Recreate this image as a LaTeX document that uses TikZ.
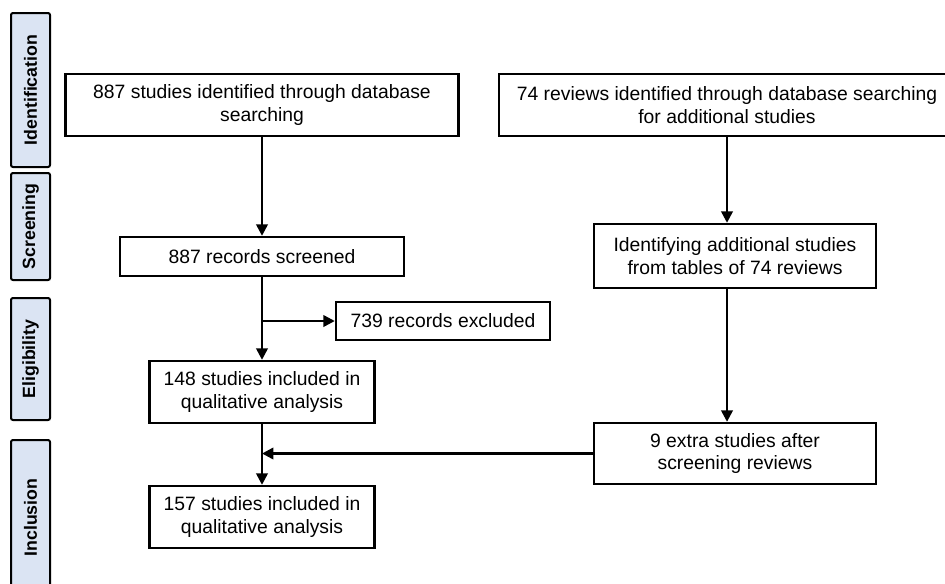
\documentclass[tikz,border=0pt]{standalone}
\usepackage{fontspec}
\setmainfont{Liberation Sans}
\usetikzlibrary{arrows.meta}
\definecolor{phaseblue}{RGB}{219,228,243}
\newlength\px
\setlength\px{0.75pt}
\tikzset{
  box/.style={draw, line width=1.8pt, align=center, inner sep=0pt,
    font=\fontsize{14.5}{17}\selectfont},
  phase/.style={draw, line width=1.5pt, rounded corners=1.5pt, fill=phaseblue,
    rotate=90, inner sep=0pt, minimum height=39\px,
    font=\bfseries\fontsize{13.3}{15}\selectfont},
  link/.style={line width=1.8pt, -{Triangle[length=8.5pt,width=8.5pt]}}
}
\begin{document}
\begin{tikzpicture}[x=0.75pt, y=-0.75pt]
    \useasboundingbox (0,0) rectangle (945,583);
    \clip (0,0) rectangle (945,583);

    % Phase labels
    \node[phase, minimum width=154\px] (ident) at (30.5,90) {Identification};
    \node[phase, minimum width=107\px] (screen) at (30.5,226.5) {Screening};
    \node[phase, minimum width=122\px] (elig) at (30.5,359) {Eligibility};
    \node[phase, minimum width=155\px] (incl) at (30.5,517.5) {Inclusion};

    % Left column
    \node[box, minimum width=393\px, minimum height=62\px] (dbstudies) at (262,105)
        {887 studies identified through database\\searching};
    \node[box, minimum width=284\px, minimum height=39\px] (screened) at (262,256.5)
        {887 records screened};
    \node[box, minimum width=214\px, minimum height=38\px] (excluded) at (443,321)
        {739 records excluded};
    \node[box, minimum width=225\px, minimum height=62\px] (incl148) at (262,392)
        {148 studies included in\\qualitative analysis};
    \node[box, minimum width=225\px, minimum height=62\px] (incl157) at (262,517)
        {157 studies included in\\qualitative analysis};

    % Right column
    \node[box, minimum width=480\px, minimum height=62\px] (dbreviews) at (739,105)
        {\hspace*{-24\px}74 reviews identified through database searching\\
         \hspace*{-24\px}for additional studies};
    \node[box, minimum width=282\px, minimum height=64\px] (tables) at (735,256)
        {Identifying additional studies\\from tables of 74 reviews};
    \node[box, minimum width=282\px, minimum height=61\px] (extra) at (735,453.5)
        {9 extra studies after\\screening reviews};

    % Connections
    \draw[link] (dbstudies) -- (screened);
    \draw[link] (screened) -- (incl148);
    \draw[link] (screened.south |- excluded.west) -- (excluded.west);
    \draw[link] (incl148) -- (incl157);
    \draw[link] (extra.west) -- (incl148.south |- extra.west);
    \draw[link] ([xshift=-12\px]dbreviews.south) -- ([xshift=-12\px]dbreviews.south |- tables.north);
    \draw[link] ([xshift=-12\px]dbreviews.south |- tables.south) -- ([xshift=-12\px]dbreviews.south |- extra.north);
\end{tikzpicture}
\end{document}
